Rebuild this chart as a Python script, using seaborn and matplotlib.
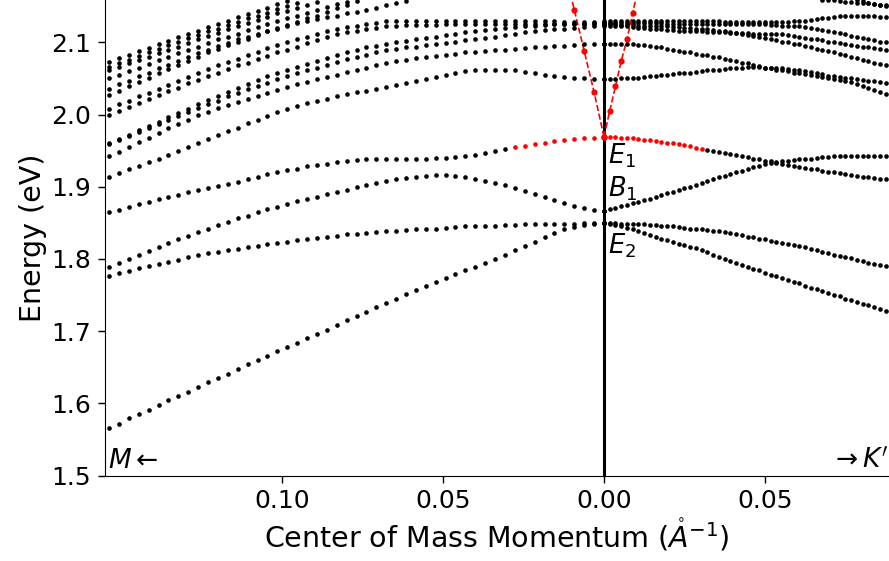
import numpy as np
import pandas as pd
import matplotlib
matplotlib.use("Agg")
import matplotlib.pyplot as plt
import seaborn as sns

# ---------------- data ----------------
# sample spacing of the exciton momentum grid (1/Angstrom)
K_STEP_M = 0.003079      # towards M (drawn to the left)
K_STEP_K = 0.001788      # towards K' (drawn to the right)

# Bands towards M, index 0 = Gamma (centre)
M_A = [1.850, 1.849, 1.847, 1.844, 1.841, 1.836, 1.830, 1.824, 1.818, 1.812, 1.806, 1.800, 1.795, 1.789,
       1.784, 1.779, 1.774, 1.768, 1.762, 1.757, 1.751, 1.745, 1.739, 1.733, 1.727, 1.721, 1.715, 1.708,
       1.702, 1.696, 1.690, 1.684, 1.678, 1.672, 1.666, 1.660, 1.654, 1.647, 1.641, 1.635, 1.629, 1.623,
       1.616, 1.610, 1.604, 1.597, 1.591, 1.585, 1.579, 1.572, 1.566]
M_B = [1.850, 1.850, 1.850, 1.849, 1.849, 1.849, 1.848, 1.848, 1.848, 1.847, 1.847, 1.846, 1.846, 1.845,
       1.845, 1.844, 1.843, 1.842, 1.842, 1.841, 1.840, 1.839, 1.838, 1.837, 1.836, 1.835, 1.834, 1.832,
       1.831, 1.829, 1.828, 1.826, 1.824, 1.822, 1.820, 1.818, 1.816, 1.814, 1.812, 1.810, 1.808, 1.805,
       1.802, 1.799, 1.796, 1.793, 1.790, 1.787, 1.783, 1.780, 1.776]
M_B1 = [1.867, 1.868, 1.870, 1.873, 1.877, 1.882, 1.886, 1.890, 1.894, 1.898, 1.902, 1.905, 1.908, 1.910,
        1.913, 1.915, 1.916, 1.916, 1.915, 1.914, 1.912, 1.910, 1.908, 1.905, 1.902, 1.899, 1.896, 1.893,
        1.890, 1.886, 1.883, 1.880, 1.876, 1.872, 1.869, 1.865, 1.860, 1.856, 1.851, 1.847, 1.842, 1.837,
        1.832, 1.827, 1.822, 1.817, 1.811, 1.806, 1.800, 1.795, 1.789]
M_E1 = [1.969, 1.968, 1.967, 1.966, 1.965, 1.963, 1.961, 1.959, 1.957, 1.955, 1.952, 1.949, 1.946, 1.944,
        1.943, 1.941, 1.940, 1.940, 1.939, 1.939, 1.939, 1.939, 1.939, 1.939, 1.938, 1.937, 1.936, 1.934,
        1.932, 1.930, 1.928, 1.925, 1.923, 1.920, 1.917, 1.914, 1.911, 1.907, 1.904, 1.901, 1.898, 1.895,
        1.892, 1.889, 1.886, 1.883, 1.879, 1.876, 1.872, 1.868, 1.865]
M_E1_RED = 10   # first samples drawn in red
M_C = [2.049, 2.049, 2.050, 2.051, 2.052, 2.053, 2.055, 2.057, 2.059, 2.061, 2.062, 2.062, 2.062, 2.061,
       2.060, 2.058, 2.055, 2.052, 2.049, 2.046, 2.043, 2.041, 2.038, 2.036, 2.033, 2.031, 2.028, 2.025,
       2.022, 2.019, 2.016, 2.012, 2.007, 2.003, 1.998, 1.993, 1.988, 1.982, 1.977, 1.971, 1.966, 1.961,
       1.955, 1.950, 1.944, 1.939, 1.934, 1.929, 1.924, 1.919, 1.914]
M_F = [2.098, 2.097, 2.097, 2.096, 2.095, 2.095, 2.094, 2.093, 2.092, 2.091, 2.090, 2.089, 2.088, 2.087,
       2.086, 2.084, 2.083, 2.081, 2.080, 2.078, 2.076, 2.074, 2.071, 2.068, 2.065, 2.062, 2.059, 2.055,
       2.052, 2.049, 2.045, 2.042, 2.038, 2.034, 2.030, 2.026, 2.022, 2.018, 2.013, 2.009, 2.004, 1.999,
       1.993, 1.987, 1.981, 1.975, 1.968, 1.962, 1.955, 1.948, 1.942]
M_U4 = [2.122, 2.122, 2.121, 2.120, 2.119, 2.118, 2.117, 2.115, 2.114, 2.112, 2.110, 2.108, 2.106, 2.105,
        2.103, 2.101, 2.099, 2.098, 2.096, 2.094, 2.093, 2.091, 2.089, 2.086, 2.083, 2.080, 2.077, 2.073,
        2.069, 2.065, 2.061, 2.057, 2.053, 2.049, 2.044, 2.040, 2.035, 2.030, 2.025, 2.019, 2.014, 2.009,
        2.003, 1.998, 1.992, 1.987, 1.981, 1.976, 1.970, 1.964, 1.959]
M_U3 = [2.127, 2.127, 2.126, 2.126, 2.125, 2.125, 2.124, 2.123, 2.122, 2.121, 2.120, 2.119, 2.117, 2.116,
        2.114, 2.112, 2.110, 2.108, 2.106, 2.104, 2.102, 2.100, 2.098, 2.095, 2.093, 2.090, 2.086, 2.082,
        2.078, 2.074, 2.070, 2.066, 2.062, 2.057, 2.053, 2.048, 2.042, 2.037, 2.031, 2.026, 2.020, 2.014,
        2.008, 2.002, 1.996, 1.990, 1.984, 1.978, 1.972, 1.966, 1.960]
M_U2 = [2.126, 2.126, 2.126, 2.126, 2.126, 2.126, 2.125, 2.125, 2.125, 2.125, 2.125, 2.125, 2.125, 2.125,
        2.125, 2.125, 2.125, 2.124, 2.124, 2.124, 2.124, 2.123, 2.122, 2.120, 2.118, 2.116, 2.114, 2.111,
        2.107, 2.103, 2.099, 2.094, 2.090, 2.086, 2.081, 2.077, 2.072, 2.068, 2.063, 2.058, 2.053, 2.048,
        2.043, 2.037, 2.032, 2.027, 2.021, 2.016, 2.010, 2.005, 1.999]
M_U1 = [2.128, 2.128, 2.128, 2.128, 2.128, 2.129, 2.129, 2.129, 2.129, 2.129, 2.129, 2.129, 2.130, 2.130,
        2.130, 2.130, 2.130, 2.130, 2.130, 2.130, 2.130, 2.130, 2.129, 2.127, 2.125, 2.123, 2.121, 2.118,
        2.115, 2.111, 2.108, 2.104, 2.100, 2.096, 2.092, 2.087, 2.082, 2.077, 2.073, 2.068, 2.063, 2.058,
        2.052, 2.047, 2.041, 2.036, 2.030, 2.025, 2.019, 2.014, 2.008]
# bands that leave the top of the window: (first visible sample index, values)
M_T1_START = 20
M_T1 = [2.157, 2.154, 2.151, 2.148, 2.145, 2.142, 2.140, 2.137, 2.135, 2.132, 2.130, 2.127, 2.123, 2.120,
        2.116, 2.112, 2.108, 2.104, 2.099, 2.095, 2.090, 2.085, 2.080, 2.074, 2.069, 2.064, 2.058, 2.053,
        2.047, 2.042, 2.036]
M_T2_START = 25
M_T2 = [2.157, 2.152, 2.147, 2.142, 2.137, 2.133, 2.128, 2.124, 2.119, 2.115, 2.110, 2.105, 2.100, 2.096,
        2.091, 2.086, 2.080, 2.074, 2.069, 2.063, 2.057, 2.051, 2.045, 2.039, 2.033, 2.027]
M_T3_START = 26
M_T3 = [2.156, 2.153, 2.149, 2.145, 2.141, 2.137, 2.134, 2.130, 2.125, 2.121, 2.117, 2.112, 2.108, 2.104,
        2.099, 2.094, 2.090, 2.085, 2.080, 2.075, 2.070, 2.065, 2.060, 2.055, 2.050]
M_T4_START = 29
M_T4 = [2.156, 2.152, 2.148, 2.144, 2.140, 2.135, 2.131, 2.127, 2.122, 2.118, 2.113, 2.109, 2.104, 2.099,
        2.094, 2.090, 2.085, 2.080, 2.075, 2.071, 2.066, 2.061]
M_T5_START = 31
M_T5 = [2.154, 2.150, 2.146, 2.141, 2.137, 2.133, 2.128, 2.124, 2.119, 2.115, 2.110, 2.106, 2.101, 2.096,
        2.091, 2.086, 2.081, 2.076, 2.071, 2.066]
M_T6_START = 32
M_T6 = [2.157, 2.153, 2.148, 2.144, 2.139, 2.135, 2.130, 2.126, 2.121, 2.116, 2.112, 2.107, 2.102, 2.097,
        2.092, 2.088, 2.083, 2.078, 2.073]

# Bands towards K', index 0 = Gamma (centre)
K_E1 = [1.969, 1.969, 1.969, 1.968, 1.968, 1.967, 1.966, 1.965, 1.964, 1.963, 1.962, 1.961, 1.960, 1.959,
        1.958, 1.956, 1.954, 1.952, 1.951, 1.949, 1.948, 1.946, 1.945, 1.944, 1.942, 1.941, 1.939, 1.938,
        1.936, 1.935, 1.933, 1.932, 1.930, 1.929, 1.927, 1.926, 1.925, 1.924, 1.922, 1.921, 1.920, 1.919,
        1.918, 1.916, 1.915, 1.914, 1.913, 1.912, 1.911, 1.910, 1.909]
K_E1_RED = 18
K_B1 = [1.867, 1.869, 1.871, 1.873, 1.875, 1.877, 1.879, 1.881, 1.883, 1.886, 1.888, 1.891, 1.893, 1.895,
        1.898, 1.900, 1.903, 1.905, 1.908, 1.910, 1.913, 1.915, 1.918, 1.920, 1.922, 1.925, 1.927, 1.929,
        1.931, 1.933, 1.934, 1.935, 1.936, 1.937, 1.938, 1.939, 1.939, 1.940, 1.941, 1.941, 1.942, 1.942,
        1.942, 1.942, 1.943, 1.943, 1.943, 1.943, 1.943, 1.943, 1.943]
K_E2a = [1.850, 1.850, 1.850, 1.849, 1.849, 1.849, 1.848, 1.848, 1.847, 1.847, 1.846, 1.846, 1.845, 1.844,
         1.843, 1.842, 1.842, 1.841, 1.840, 1.839, 1.838, 1.837, 1.836, 1.834, 1.833, 1.831, 1.830, 1.828,
         1.827, 1.825, 1.824, 1.822, 1.821, 1.819, 1.818, 1.816, 1.814, 1.812, 1.810, 1.808, 1.806, 1.804,
         1.802, 1.801, 1.799, 1.797, 1.795, 1.793, 1.792, 1.790, 1.788]
K_E2b = [1.850, 1.849, 1.847, 1.845, 1.843, 1.841, 1.838, 1.836, 1.833, 1.831, 1.828, 1.826, 1.824, 1.821,
         1.819, 1.817, 1.815, 1.812, 1.809, 1.806, 1.803, 1.800, 1.797, 1.794, 1.792, 1.789, 1.786, 1.784,
         1.781, 1.778, 1.776, 1.773, 1.771, 1.768, 1.766, 1.763, 1.760, 1.758, 1.755, 1.753, 1.750, 1.748,
         1.745, 1.743, 1.740, 1.738, 1.736, 1.733, 1.731, 1.728, 1.726]
K_C = [2.049, 2.049, 2.049, 2.050, 2.050, 2.050, 2.051, 2.052, 2.053, 2.054, 2.055, 2.055, 2.056, 2.057,
       2.058, 2.058, 2.059, 2.060, 2.061, 2.061, 2.062, 2.063, 2.064, 2.065, 2.065, 2.066, 2.066, 2.066,
       2.065, 2.065, 2.064, 2.064, 2.063, 2.062, 2.061, 2.060, 2.059, 2.057, 2.056, 2.054, 2.053, 2.052,
       2.051, 2.050, 2.049, 2.048, 2.047, 2.046, 2.045, 2.044, 2.043]
K_F = [2.098, 2.098, 2.098, 2.097, 2.097, 2.097, 2.096, 2.096, 2.095, 2.094, 2.093, 2.091, 2.090, 2.088,
       2.087, 2.086, 2.084, 2.083, 2.082, 2.080, 2.079, 2.077, 2.075, 2.074, 2.072, 2.071, 2.069, 2.067,
       2.065, 2.064, 2.062, 2.061, 2.060, 2.058, 2.057, 2.056, 2.055, 2.053, 2.052, 2.050, 2.049, 2.048,
       2.046, 2.045, 2.042, 2.040, 2.037, 2.034, 2.031, 2.028, 2.025]
K_H1 = [2.129, 2.129, 2.129, 2.129, 2.129, 2.129, 2.129, 2.129, 2.129, 2.129, 2.129, 2.129, 2.129, 2.129,
        2.129, 2.129, 2.129, 2.129, 2.129, 2.129, 2.129, 2.128, 2.128, 2.128, 2.128, 2.128, 2.128, 2.128,
        2.128, 2.128, 2.128, 2.128, 2.128, 2.129, 2.130, 2.130, 2.131, 2.132, 2.133, 2.134, 2.135, 2.136,
        2.136, 2.137, 2.137, 2.137, 2.136, 2.136, 2.135, 2.135, 2.134]
K_H2 = [2.127, 2.127, 2.127, 2.127, 2.127, 2.127, 2.127, 2.127, 2.127, 2.127, 2.127, 2.126, 2.126, 2.126,
        2.126, 2.126, 2.126, 2.126, 2.126, 2.126, 2.126, 2.126, 2.126, 2.125, 2.125, 2.125, 2.125, 2.125,
        2.125, 2.124, 2.124, 2.123, 2.123, 2.122, 2.122, 2.121, 2.120, 2.118, 2.117, 2.116, 2.114, 2.113,
        2.111, 2.109, 2.107, 2.106, 2.104, 2.103, 2.101, 2.100, 2.098]
K_H3 = [2.124, 2.123, 2.123, 2.122, 2.122, 2.121, 2.120, 2.120, 2.119, 2.119, 2.118, 2.117, 2.117, 2.116,
        2.116, 2.115, 2.115, 2.115, 2.114, 2.114, 2.114, 2.114, 2.113, 2.113, 2.113, 2.113, 2.112, 2.112,
        2.112, 2.112, 2.111, 2.111, 2.110, 2.109, 2.108, 2.106, 2.105, 2.104, 2.103, 2.101, 2.100, 2.099,
        2.098, 2.096, 2.095, 2.094, 2.093, 2.092, 2.091, 2.090, 2.089]
K_H4 = [2.125, 2.125, 2.125, 2.124, 2.124, 2.124, 2.123, 2.123, 2.123, 2.122, 2.122, 2.122, 2.121, 2.121,
        2.120, 2.120, 2.119, 2.118, 2.118, 2.117, 2.116, 2.115, 2.114, 2.113, 2.111, 2.110, 2.109, 2.107,
        2.106, 2.104, 2.103, 2.101, 2.100, 2.098, 2.097, 2.095, 2.093, 2.091, 2.090, 2.088, 2.086, 2.084,
        2.082, 2.080, 2.078, 2.076, 2.074, 2.072, 2.070, 2.068, 2.066]
K_T1_START = 38
K_T1 = [2.159, 2.158, 2.158, 2.157, 2.156, 2.156, 2.155, 2.154, 2.154, 2.153, 2.152, 2.152, 2.151]
K_T2_START = 44
K_T2 = [2.158, 2.157, 2.155, 2.153, 2.152, 2.150, 2.148]

# Linear (photon-like) branches emerging from E1 at Gamma
LC_M = [1.969, 2.031, 2.088, 2.145, 2.202]          # towards M
LC_K = [1.969, 2.005, 2.039, 2.074, 2.104, 2.141, 2.176]  # towards K'

# axis text
X_TICKS = [-0.10, -0.05, 0.00, 0.05]
X_TICKLABELS = ["0.10", "0.05", "0.00", "0.05"]
Y_TICKS = [1.5, 1.6, 1.7, 1.8, 1.9, 2.0, 2.1]

# ---------------- build table ----------------
rows = []


def add(values, side, start=0, red=0):
    step = -K_STEP_M if side == "M" else K_STEP_K
    for i, e in enumerate(values):
        n = start + i
        rows.append({"k": n * step, "E": e, "c": "red" if n < red else "black"})


for band in [M_A, M_B, M_B1, M_C, M_F, M_U4, M_U3, M_U2, M_U1]:
    add(band, "M")
add(M_E1, "M", red=M_E1_RED)
for s, band in [(M_T1_START, M_T1), (M_T2_START, M_T2), (M_T3_START, M_T3),
                (M_T4_START, M_T4), (M_T5_START, M_T5), (M_T6_START, M_T6)]:
    add(band, "M", start=s)
for band in [K_B1, K_E2a, K_E2b, K_C, K_F, K_H1, K_H2, K_H3, K_H4]:
    add(band, "K")
add(K_E1, "K", red=K_E1_RED)
for s, band in [(K_T1_START, K_T1), (K_T2_START, K_T2)]:
    add(band, "K", start=s)

df = pd.DataFrame(rows)
lc_m = pd.DataFrame({"k": [-i * K_STEP_M for i in range(len(LC_M))], "E": LC_M})
lc_k = pd.DataFrame({"k": [i * K_STEP_K for i in range(len(LC_K))], "E": LC_K})

# ---------------- plot ----------------
fig = plt.figure(figsize=(8.89, 5.61), dpi=100)
ax = fig.add_axes([105 / 889, 85.5 / 561, 784 / 889, 475.5 / 561])

ax.axvline(0, color="black", lw=2.2, zorder=2)

for d in (lc_m, lc_k):
    sns.lineplot(data=d, x="k", y="E", ax=ax, color="red", linestyle="--", lw=1.2,
                 marker="o", markersize=4.5, markeredgewidth=0, sort=False, zorder=3)

blk = df[df["c"] == "black"]
red = df[df["c"] == "red"]
sns.scatterplot(data=blk, x="k", y="E", ax=ax, color="black", s=11, linewidth=0, zorder=4)
sns.scatterplot(data=red, x="k", y="E", ax=ax, color="red", s=11, linewidth=0, zorder=5)

ax.set_xlim(-0.1552, 0.08865)
ax.set_ylim(1.5, 2.1586)
ax.set_xticks(X_TICKS)
ax.set_xticklabels(X_TICKLABELS)
ax.set_yticks(Y_TICKS)
ax.tick_params(labelsize=18, length=5, width=1, pad=5)
ax.set_xlabel(r"Center of Mass Momentum ($\mathring{A}^{-1}$)", fontsize=20.5, labelpad=3)
ax.set_ylabel("Energy (eV)", fontsize=20.5, labelpad=3)
for sp in ("top", "right"):
    ax.spines[sp].set_visible(False)

ax.text(0.0012, 1.9323, r"$E_1$", fontsize=18.5, ha="left", va="baseline")
ax.text(0.0012, 1.8864, r"$B_1$", fontsize=18.5, ha="left", va="baseline")
ax.text(0.0012, 1.807, r"$E_2$", fontsize=18.5, ha="left", va="baseline")
ax.text(0.004, 0.0164, r"$M\leftarrow$", fontsize=19, ha="left", va="baseline",
        transform=ax.transAxes)
ax.text(0.999, 0.0164, r"$\rightarrow K'$", fontsize=19, ha="right", va="baseline",
        transform=ax.transAxes)

fig.savefig("out.png", dpi=100)
